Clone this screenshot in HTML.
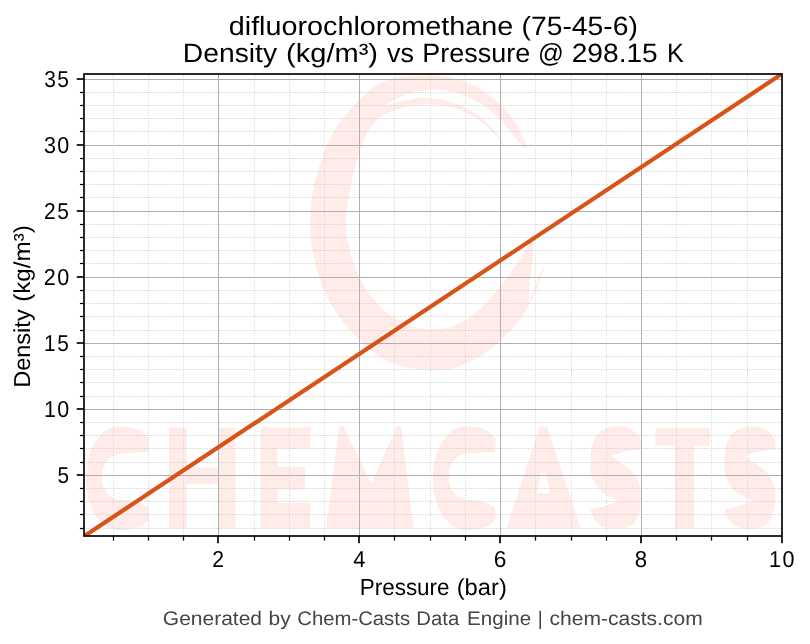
<!DOCTYPE html>
<html lang="en"><head><meta charset="utf-8"><title>difluorochloromethane (75-45-6) - Density vs Pressure</title>
<style>html,body{margin:0;padding:0;background:#fff;}body{width:810px;height:644px;overflow:hidden;font-family:"Liberation Sans",sans-serif;}svg{display:block;will-change:transform;}text{font-family:"Liberation Sans",sans-serif;white-space:pre;text-rendering:geometricPrecision;}</style>
</head><body>
<svg width="810" height="644" viewBox="0 0 810 644">
<rect x="0" y="0" width="810" height="644" fill="#ffffff"/>
<defs><clipPath id="ax"><rect x="84.0" y="74.0" width="698.0" height="462.0"/></clipPath></defs>
<g clip-path="url(#ax)" fill="#ffebe8">
<path d="M527.7,149.5 C527.3,148.2 527.3,146.0 525.2,141.6 C523.1,137.2 519.4,129.3 515.3,123.1 C511.2,116.9 505.9,109.9 500.5,104.6 C495.1,99.2 489.4,94.9 483.2,91.0 C477.0,87.1 470.1,83.6 463.5,81.1 C456.9,78.6 450.7,77.2 443.7,76.2 C436.7,75.2 428.9,75.3 421.5,75.4 C414.1,75.5 406.3,75.5 399.3,76.9 C392.3,78.3 385.3,80.6 379.5,83.6 C373.7,86.6 369.7,90.3 364.7,94.7 C359.7,99.1 355.1,103.2 349.7,109.8 C344.3,116.4 337.3,125.5 332.3,134.6 C327.3,143.7 323.2,154.5 319.9,164.4 C316.6,174.3 314.1,184.1 312.4,194.2 C310.7,204.3 309.9,215.7 309.9,225.0 C309.9,234.3 310.9,241.5 312.4,249.8 C313.8,258.1 315.7,266.0 318.6,274.7 C321.5,283.4 325.0,293.3 329.8,302.0 C334.6,310.7 340.6,318.9 347.2,326.8 C353.8,334.7 361.7,343.0 369.6,349.2 C377.5,355.4 386.1,360.8 394.4,364.1 C402.7,367.4 411.9,368.0 419.3,369.0 C426.8,370.0 433.2,370.5 439.1,370.3 C445.0,370.1 448.1,370.1 454.8,367.8 C461.6,365.5 471.7,361.4 479.6,356.6 C487.5,351.8 495.0,345.8 502.0,339.2 C509.0,332.6 516.4,324.3 521.8,316.9 C527.2,309.4 530.9,301.5 534.2,294.5 C537.5,287.5 540.0,279.7 541.7,274.7 C543.4,269.7 543.8,266.4 544.2,264.7 C543.4,266.5 541.3,271.1 539.5,275.5 C537.7,279.9 535.3,286.6 533.5,291.0 C531.7,295.4 529.3,300.2 528.5,302.0 C528.8,298.3 529.2,287.5 530.0,279.6 C530.8,271.7 532.5,263.1 533.0,254.8 C533.5,246.5 533.0,234.1 533.0,230.0 C532.0,232.9 529.9,241.2 526.8,247.4 C523.7,253.6 518.9,260.6 514.4,267.2 C509.8,273.8 505.3,280.1 499.5,287.1 C493.7,294.1 487.1,303.0 479.6,309.4 C472.2,315.8 463.1,322.3 454.8,325.6 C446.5,328.9 438.0,329.5 430.0,329.3 C422.0,329.1 414.2,327.2 406.8,324.3 C399.4,321.4 392.1,317.3 385.7,311.9 C379.3,306.5 373.3,299.0 368.3,292.0 C363.3,285.0 359.2,277.6 355.9,269.7 C352.6,261.8 350.0,252.8 348.4,244.8 C346.8,236.9 346.0,229.6 346.0,222.0 C346.0,214.4 347.2,207.1 348.4,199.2 C349.6,191.2 351.3,183.2 353.4,174.3 C355.5,165.4 357.9,154.1 361.0,146.0 C364.1,137.9 368.5,131.1 372.0,126.0 C375.5,121.0 377.4,118.6 382.0,115.7 C386.6,112.8 393.6,110.3 399.3,108.5 C405.1,106.7 410.8,105.7 416.5,105.0 C422.2,104.3 428.0,104.2 433.8,104.5 C439.6,104.8 445.3,105.4 451.1,107.0 C456.9,108.6 463.0,111.2 468.4,114.0 C473.8,116.8 478.3,119.5 483.2,123.5 C488.1,127.5 493.5,132.7 498.0,138.0 C502.5,143.3 508.3,152.3 510.4,155.2 C508.3,151.9 502.5,141.4 498.0,135.4 C493.5,129.4 488.1,123.7 483.2,119.4 C478.3,115.1 473.8,112.4 468.4,109.5 C463.0,106.6 456.9,103.9 451.1,102.1 C445.3,100.2 439.6,99.0 433.8,98.4 C428.0,97.8 422.2,97.8 416.5,98.4 C410.8,99.0 405.1,100.7 399.3,102.1 C393.6,103.5 384.9,106.2 382.0,107.0 C384.5,105.6 391.5,100.9 396.8,98.4 C402.1,95.9 408.2,93.6 414.0,92.2 C419.8,90.8 425.6,90.0 431.4,89.8 C437.2,89.6 442.4,89.8 448.6,91.0 C454.8,92.2 462.2,94.5 468.4,97.2 C474.6,99.9 480.3,103.1 485.7,107.0 C491.1,110.9 496.0,116.1 500.5,120.6 C505.0,125.1 509.1,129.9 512.8,134.2 C516.5,138.5 520.2,143.9 522.7,146.5 C525.2,149.1 526.9,149.0 527.7,149.5 Z"/>
<path d="M149,439 C143,431 136,426.5 119,426.5 C100,426.5 86,449.5 86,478.0 C86,507.0 100,530.0 119,530.0 C136,530.0 143,526.0 149,519 L148,508 C141,503 134,500 124,500 C110,500 102,492 102,477 C102,462 110,453.6 124,453.6 C134,453.6 141,451 148,452.6 Z"/>
<path d="M169,427.5 H187 V467.5 H218 V427.5 H235.5 V528.0 H218 V484 H187 V528.0 H169 Z"/>
<path d="M260.5,427.5 H310.5 V448.5 H277.5 V467 H305 V489.5 H277.5 V503 H310 V528.0 H260.5 Z"/>
<path d="M326,528.0 L339.3,426.3 L343.2,426.3 L371.3,483.4 L397.2,426.3 L401,426.3 L413.5,528.0 Z"/>
<path d="M496,439 C490,431 483,426.5 466,426.5 C447,426.5 433,449.5 433,478.0 C433,507.0 447,530.0 466,530.0 C483,530.0 490,526.0 496,519 L495,508 C488,503 481,500 471,500 C457,500 449,492 449,477 C449,462 457,453.6 471,453.6 C481,453.6 488,451 495,452.6 Z"/>
<path fill-rule="evenodd" d="M506.6,528.0 L540,426.5 L547,426.5 L580.5,528.0 Z M536.4,493.2 L550.4,493.2 L546,473.6 L541,473.6 Z"/>
<path d="M640.0,449.5 C640.2,448.6 641.7,446.2 641.5,444.0 C641.3,441.8 640.8,438.5 638.9,436.0 C637.0,433.5 633.4,430.6 630.0,429.0 C626.6,427.4 622.9,426.2 618.4,426.3 C613.9,426.4 607.2,427.6 603.2,429.8 C599.2,432.0 596.4,435.3 594.3,439.6 C592.2,443.9 591.2,450.0 590.7,455.7 C590.2,461.4 589.8,468.2 591.0,473.6 C592.2,479.0 595.3,484.3 597.9,487.9 C600.5,491.5 603.4,492.8 606.8,495.0 C610.2,497.2 616.5,500.0 618.4,501.0 C616.2,501.8 609.6,504.6 605.0,506.0 C600.4,507.4 593.3,508.8 591.0,509.3 C591.1,510.2 590.5,512.2 591.6,514.6 C592.8,517.0 595.3,521.4 597.9,523.6 C600.5,525.8 603.6,527.1 607.0,528.0 C610.4,528.9 614.6,529.3 618.4,529.0 C622.2,528.7 626.9,527.8 630.0,526.0 C633.1,524.2 635.2,521.7 637.0,518.0 C638.8,514.3 640.1,509.0 640.7,504.0 C641.3,499.0 641.6,493.0 640.4,487.9 C639.2,482.8 636.2,477.3 633.6,473.6 C631.0,469.9 628.3,468.5 624.6,465.5 C620.9,462.5 613.5,457.3 611.3,455.7 C613.6,455.0 620.2,452.5 625.0,451.5 C629.8,450.5 637.5,449.8 640.0,449.5 Z"/>
<path d="M655.6,428.2 H710 V445.5 H694 V528.0 H674.8 V445.5 H655.6 Z"/>
<path d="M774.0,449.5 C774.2,448.6 775.7,446.2 775.5,444.0 C775.3,441.8 774.8,438.5 772.9,436.0 C771.0,433.5 767.4,430.6 764.0,429.0 C760.6,427.4 756.9,426.2 752.4,426.3 C747.9,426.4 741.2,427.6 737.2,429.8 C733.2,432.0 730.4,435.3 728.3,439.6 C726.2,443.9 725.2,450.0 724.7,455.7 C724.2,461.4 723.8,468.2 725.0,473.6 C726.2,479.0 729.3,484.3 731.9,487.9 C734.5,491.5 737.4,492.8 740.8,495.0 C744.2,497.2 750.5,500.0 752.4,501.0 C750.2,501.8 743.6,504.6 739.0,506.0 C734.4,507.4 727.3,508.8 725.0,509.3 C725.1,510.2 724.5,512.2 725.6,514.6 C726.8,517.0 729.3,521.4 731.9,523.6 C734.5,525.8 737.6,527.1 741.0,528.0 C744.4,528.9 748.6,529.3 752.4,529.0 C756.2,528.7 760.9,527.8 764.0,526.0 C767.1,524.2 769.2,521.7 771.0,518.0 C772.8,514.3 774.1,509.0 774.7,504.0 C775.3,499.0 775.6,493.0 774.4,487.9 C773.2,482.8 770.2,477.3 767.6,473.6 C765.0,469.9 762.3,468.5 758.6,465.5 C754.9,462.5 747.5,457.3 745.3,455.7 C747.6,455.0 754.2,452.5 759.0,451.5 C763.8,450.5 771.5,449.8 774.0,449.5 Z"/>
</g>
<g clip-path="url(#ax)" stroke="#d4d4d4" stroke-width="1" fill="none">
<g stroke-dasharray="1 1.5">
<line x1="113.5" y1="536.0" x2="113.5" y2="74.0"/>
<line x1="148.5" y1="536.0" x2="148.5" y2="74.0"/>
<line x1="183.5" y1="536.0" x2="183.5" y2="74.0"/>
<line x1="254.5" y1="536.0" x2="254.5" y2="74.0"/>
<line x1="289.5" y1="536.0" x2="289.5" y2="74.0"/>
<line x1="324.5" y1="536.0" x2="324.5" y2="74.0"/>
<line x1="394.5" y1="536.0" x2="394.5" y2="74.0"/>
<line x1="430.5" y1="536.0" x2="430.5" y2="74.0"/>
<line x1="465.5" y1="536.0" x2="465.5" y2="74.0"/>
<line x1="535.5" y1="536.0" x2="535.5" y2="74.0"/>
<line x1="571.5" y1="536.0" x2="571.5" y2="74.0"/>
<line x1="606.5" y1="536.0" x2="606.5" y2="74.0"/>
<line x1="676.5" y1="536.0" x2="676.5" y2="74.0"/>
<line x1="711.5" y1="536.0" x2="711.5" y2="74.0"/>
<line x1="747.5" y1="536.0" x2="747.5" y2="74.0"/>
</g>
<g stroke-dasharray="1.3 1.2136">
<line x1="83.5" y1="528.5" x2="782.0" y2="528.5"/>
<line x1="83.5" y1="514.5" x2="782.0" y2="514.5"/>
<line x1="83.5" y1="501.5" x2="782.0" y2="501.5"/>
<line x1="83.5" y1="488.5" x2="782.0" y2="488.5"/>
<line x1="83.5" y1="462.5" x2="782.0" y2="462.5"/>
<line x1="83.5" y1="448.5" x2="782.0" y2="448.5"/>
<line x1="83.5" y1="435.5" x2="782.0" y2="435.5"/>
<line x1="83.5" y1="422.5" x2="782.0" y2="422.5"/>
<line x1="83.5" y1="396.5" x2="782.0" y2="396.5"/>
<line x1="83.5" y1="382.5" x2="782.0" y2="382.5"/>
<line x1="83.5" y1="369.5" x2="782.0" y2="369.5"/>
<line x1="83.5" y1="356.5" x2="782.0" y2="356.5"/>
<line x1="83.5" y1="330.5" x2="782.0" y2="330.5"/>
<line x1="83.5" y1="316.5" x2="782.0" y2="316.5"/>
<line x1="83.5" y1="303.5" x2="782.0" y2="303.5"/>
<line x1="83.5" y1="290.5" x2="782.0" y2="290.5"/>
<line x1="83.5" y1="263.5" x2="782.0" y2="263.5"/>
<line x1="83.5" y1="250.5" x2="782.0" y2="250.5"/>
<line x1="83.5" y1="237.5" x2="782.0" y2="237.5"/>
<line x1="83.5" y1="224.5" x2="782.0" y2="224.5"/>
<line x1="83.5" y1="197.5" x2="782.0" y2="197.5"/>
<line x1="83.5" y1="184.5" x2="782.0" y2="184.5"/>
<line x1="83.5" y1="171.5" x2="782.0" y2="171.5"/>
<line x1="83.5" y1="158.5" x2="782.0" y2="158.5"/>
<line x1="83.5" y1="131.5" x2="782.0" y2="131.5"/>
<line x1="83.5" y1="118.5" x2="782.0" y2="118.5"/>
<line x1="83.5" y1="105.5" x2="782.0" y2="105.5"/>
<line x1="83.5" y1="92.5" x2="782.0" y2="92.5"/>
</g>
</g>
<g clip-path="url(#ax)" fill="#b0b0b0" shape-rendering="crispEdges">
<rect x="218" y="74.0" width="1" height="462.0"/>
<rect x="359" y="74.0" width="1" height="462.0"/>
<rect x="500" y="74.0" width="1" height="462.0"/>
<rect x="641" y="74.0" width="1" height="462.0"/>
<rect x="84.0" y="475" width="698.0" height="1"/>
<rect x="84.0" y="409" width="698.0" height="1"/>
<rect x="84.0" y="343" width="698.0" height="1"/>
<rect x="84.0" y="277" width="698.0" height="1"/>
<rect x="84.0" y="211" width="698.0" height="1"/>
<rect x="84.0" y="145" width="698.0" height="1"/>
<rect x="84.0" y="79" width="698.0" height="1"/>
</g>
<g clip-path="url(#ax)"><line x1="78.4" y1="539.97" x2="787.8" y2="70.03" stroke="#d95319" stroke-width="4.17"/></g>
<g stroke="#000" fill="none">
<line x1="218" y1="536.0" x2="218" y2="543.29" stroke-width="1.67"/>
<line x1="359" y1="536.0" x2="359" y2="543.29" stroke-width="1.67"/>
<line x1="500" y1="536.0" x2="500" y2="543.29" stroke-width="1.67"/>
<line x1="641" y1="536.0" x2="641" y2="543.29" stroke-width="1.67"/>
<line x1="782" y1="536.0" x2="782" y2="543.29" stroke-width="1.67"/>
<line x1="113.5" y1="536.0" x2="113.5" y2="540.6" stroke-width="1.25"/>
<line x1="148.5" y1="536.0" x2="148.5" y2="540.6" stroke-width="1.25"/>
<line x1="183.5" y1="536.0" x2="183.5" y2="540.6" stroke-width="1.25"/>
<line x1="254.5" y1="536.0" x2="254.5" y2="540.6" stroke-width="1.25"/>
<line x1="289.5" y1="536.0" x2="289.5" y2="540.6" stroke-width="1.25"/>
<line x1="324.5" y1="536.0" x2="324.5" y2="540.6" stroke-width="1.25"/>
<line x1="394.5" y1="536.0" x2="394.5" y2="540.6" stroke-width="1.25"/>
<line x1="430.5" y1="536.0" x2="430.5" y2="540.6" stroke-width="1.25"/>
<line x1="465.5" y1="536.0" x2="465.5" y2="540.6" stroke-width="1.25"/>
<line x1="535.5" y1="536.0" x2="535.5" y2="540.6" stroke-width="1.25"/>
<line x1="571.5" y1="536.0" x2="571.5" y2="540.6" stroke-width="1.25"/>
<line x1="606.5" y1="536.0" x2="606.5" y2="540.6" stroke-width="1.25"/>
<line x1="676.5" y1="536.0" x2="676.5" y2="540.6" stroke-width="1.25"/>
<line x1="711.5" y1="536.0" x2="711.5" y2="540.6" stroke-width="1.25"/>
<line x1="747.5" y1="536.0" x2="747.5" y2="540.6" stroke-width="1.25"/>
<line x1="84.0" y1="475" x2="76.71" y2="475" stroke-width="1.67"/>
<line x1="84.0" y1="409" x2="76.71" y2="409" stroke-width="1.67"/>
<line x1="84.0" y1="343" x2="76.71" y2="343" stroke-width="1.67"/>
<line x1="84.0" y1="277" x2="76.71" y2="277" stroke-width="1.67"/>
<line x1="84.0" y1="211" x2="76.71" y2="211" stroke-width="1.67"/>
<line x1="84.0" y1="145" x2="76.71" y2="145" stroke-width="1.67"/>
<line x1="84.0" y1="79" x2="76.71" y2="79" stroke-width="1.67"/>
<line x1="84.0" y1="528.5" x2="79.9" y2="528.5" stroke-width="1.25"/>
<line x1="84.0" y1="514.5" x2="79.9" y2="514.5" stroke-width="1.25"/>
<line x1="84.0" y1="501.5" x2="79.9" y2="501.5" stroke-width="1.25"/>
<line x1="84.0" y1="488.5" x2="79.9" y2="488.5" stroke-width="1.25"/>
<line x1="84.0" y1="462.5" x2="79.9" y2="462.5" stroke-width="1.25"/>
<line x1="84.0" y1="448.5" x2="79.9" y2="448.5" stroke-width="1.25"/>
<line x1="84.0" y1="435.5" x2="79.9" y2="435.5" stroke-width="1.25"/>
<line x1="84.0" y1="422.5" x2="79.9" y2="422.5" stroke-width="1.25"/>
<line x1="84.0" y1="396.5" x2="79.9" y2="396.5" stroke-width="1.25"/>
<line x1="84.0" y1="382.5" x2="79.9" y2="382.5" stroke-width="1.25"/>
<line x1="84.0" y1="369.5" x2="79.9" y2="369.5" stroke-width="1.25"/>
<line x1="84.0" y1="356.5" x2="79.9" y2="356.5" stroke-width="1.25"/>
<line x1="84.0" y1="330.5" x2="79.9" y2="330.5" stroke-width="1.25"/>
<line x1="84.0" y1="316.5" x2="79.9" y2="316.5" stroke-width="1.25"/>
<line x1="84.0" y1="303.5" x2="79.9" y2="303.5" stroke-width="1.25"/>
<line x1="84.0" y1="290.5" x2="79.9" y2="290.5" stroke-width="1.25"/>
<line x1="84.0" y1="263.5" x2="79.9" y2="263.5" stroke-width="1.25"/>
<line x1="84.0" y1="250.5" x2="79.9" y2="250.5" stroke-width="1.25"/>
<line x1="84.0" y1="237.5" x2="79.9" y2="237.5" stroke-width="1.25"/>
<line x1="84.0" y1="224.5" x2="79.9" y2="224.5" stroke-width="1.25"/>
<line x1="84.0" y1="197.5" x2="79.9" y2="197.5" stroke-width="1.25"/>
<line x1="84.0" y1="184.5" x2="79.9" y2="184.5" stroke-width="1.25"/>
<line x1="84.0" y1="171.5" x2="79.9" y2="171.5" stroke-width="1.25"/>
<line x1="84.0" y1="158.5" x2="79.9" y2="158.5" stroke-width="1.25"/>
<line x1="84.0" y1="131.5" x2="79.9" y2="131.5" stroke-width="1.25"/>
<line x1="84.0" y1="118.5" x2="79.9" y2="118.5" stroke-width="1.25"/>
<line x1="84.0" y1="105.5" x2="79.9" y2="105.5" stroke-width="1.25"/>
<line x1="84.0" y1="92.5" x2="79.9" y2="92.5" stroke-width="1.25"/>
<rect x="84.0" y="74.0" width="698.0" height="462.0" stroke-width="1.67"/>
</g>
<text y="35.00" font-size="26.4" fill="#000">
<tspan x="228.77" textLength="284.38" lengthAdjust="spacingAndGlyphs">difluorochloromethane</tspan> <tspan x="521.55" textLength="116.29" lengthAdjust="spacingAndGlyphs">(75-45-6)</tspan>
</text>
<text y="62.00" font-size="26.4" fill="#000">
<tspan x="182.89" textLength="94.22" lengthAdjust="spacingAndGlyphs">Density</tspan> <tspan x="286.09" textLength="91.96" lengthAdjust="spacingAndGlyphs">(kg/m³)</tspan> <tspan x="386.99" textLength="26.92" lengthAdjust="spacingAndGlyphs">vs</tspan> <tspan x="422.35" textLength="107.92" lengthAdjust="spacingAndGlyphs">Pressure</tspan> <tspan x="537.99" textLength="25.80" lengthAdjust="spacingAndGlyphs">@</tspan> <tspan x="571.70" textLength="86.06" lengthAdjust="spacingAndGlyphs">298.15</tspan> <tspan x="667.10" textLength="16.82" lengthAdjust="spacingAndGlyphs">K</tspan>
</text>
<text y="595.00" font-size="23.1" fill="#000">
<tspan x="359.70" textLength="89.91" lengthAdjust="spacingAndGlyphs">Pressure</tspan> <tspan x="456.66" textLength="50.17" lengthAdjust="spacingAndGlyphs">(bar)</tspan>
</text>
<text y="625.00" font-size="19.6" fill="#444444">
<tspan x="162.85" textLength="99.12" lengthAdjust="spacingAndGlyphs">Generated</tspan> <tspan x="268.63" textLength="22.13" lengthAdjust="spacingAndGlyphs">by</tspan> <tspan x="297.26" textLength="112.81" lengthAdjust="spacingAndGlyphs">Chem-Casts</tspan> <tspan x="416.39" textLength="42.89" lengthAdjust="spacingAndGlyphs">Data</tspan> <tspan x="467.10" textLength="64.02" lengthAdjust="spacingAndGlyphs">Engine</tspan> <tspan x="537.83" textLength="4.99" lengthAdjust="spacingAndGlyphs">|</tspan> <tspan x="549.58" textLength="153.10" lengthAdjust="spacingAndGlyphs">chem-casts.com</tspan>
</text>
<text transform="translate(30.00 387.94) rotate(-90)" font-size="23.1" fill="#000">
<tspan x="0.11" textLength="78.50" lengthAdjust="spacingAndGlyphs">Density</tspan> <tspan x="86.10" textLength="76.62" lengthAdjust="spacingAndGlyphs">(kg/m³)</tspan>
</text>
<g font-size="23.0" fill="#000">
<text transform="translate(0 483.00) scale(0.9010 1)" x="63.70" y="0">5</text>
<text transform="translate(0 417.00) scale(0.9332 1)" x="47.05 61.37" y="0">10</text>
<text transform="translate(0 351.00) scale(0.9064 1)" x="48.65 63.28" y="0">15</text>
<text transform="translate(0 285.00) scale(0.9374 1)" x="46.63 61.06" y="0">20</text>
<text transform="translate(0 219.00) scale(0.9106 1)" x="48.20 62.96" y="0">25</text>
<text transform="translate(0 153.00) scale(0.9358 1)" x="47.05 61.18" y="0">30</text>
<text transform="translate(0 87.00) scale(0.9089 1)" x="48.63 63.09" y="0">35</text>
<text transform="translate(0 567.00) scale(0.9202 1)" x="230.68" y="0">2</text>
<text transform="translate(0 567.00) scale(0.9548 1)" x="369.89" y="0">4</text>
<text transform="translate(0 567.00) scale(0.9881 1)" x="499.76" y="0">6</text>
<text transform="translate(0 567.00) scale(0.9650 1)" x="657.79" y="0">8</text>
<text transform="translate(0 567.00) scale(0.9332 1)" x="824.11 838.42" y="0">10</text>
</g>
</svg>
</body></html>
